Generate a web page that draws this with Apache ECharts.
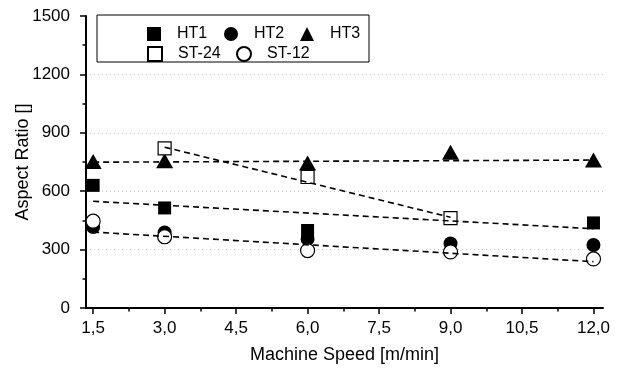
<!DOCTYPE html>
<html>
<head>
<meta charset="utf-8">
<script src="https://cdn.jsdelivr.net/npm/echarts@6/dist/echarts.min.js"></script>
<style>html,body{margin:0;padding:0;background:#fff}#c{width:618px;height:372px}</style>
</head>
<body>
<div id="c"></div>
<script>
// Data
var xMajorTicks = [1.5, 3.0, 4.5, 6.0, 7.5, 9.0, 10.5, 12.0];
var xMinorTicks = [2.25, 3.75, 5.25, 6.75, 8.25, 9.75, 11.25];
var HT1 = [[1.5, 630], [3.0, 514], [6.0, 398], [12.0, 437]];
var HT2 = [[1.5, 416], [3.0, 388], [6.0, 355], [9.0, 331], [12.0, 324]];
var HT3 = [[1.5, 752], [3.0, 756], [6.0, 745], [9.0, 800], [12.0, 760]];
var ST24 = [[3.0, 820], [6.0, 673], [9.0, 462]];
var ST12 = [[1.5, 446], [3.0, 366], [6.0, 295], [9.0, 288], [12.0, 252]];
var fitHT3 = [[1.5, 749], [12.0, 760]];
var fitST24 = [[3.0, 826], [9.0, 466]];
var fitHT1 = [[1.5, 548], [12.0, 407]];
var fitCircles = [[1.5, 390], [12.0, 238]];

var FONT = 'Liberation Sans';
var chart = echarts.init(document.getElementById('c'), null, {renderer: 'canvas'});

function scatter(name, data, symbol, size, filled) {
  return {
    name: name, type: 'scatter', data: data, symbol: symbol, symbolSize: size,
    xAxisIndex: 0, z: 2,
    itemStyle: filled ? {color: '#000', borderColor: '#000', borderWidth: 0, opacity: 1}
                      : {color: '#fff', borderColor: '#000', borderWidth: 1.2, opacity: 1}
  };
}
function fit(data) {
  return {
    type: 'line', data: data, symbol: 'none', xAxisIndex: 0, z: 3, silent: true,
    lineStyle: {color: '#000', width: 1.6, type: [6, 4]}
  };
}
function legendItem(name, left, top) {
  return {
    data: [name], left: left, top: top, padding: 0, itemWidth: 14, itemHeight: 14,
    selectedMode: false, itemGap: 0, z: 20,
    formatter: function (n) { return '{t|' + n + '}'; },
    textStyle: {fontFamily: FONT, fontSize: 16, color: '#000',
      rich: {t: {fontFamily: FONT, fontSize: 16, color: '#000', padding: [0, 0, 0, 11]}}}
  };
}

var option = {
  animation: false,
  backgroundColor: '#fff',
  grid: {left: 86, top: 16, width: 517, height: 292, containLabel: false, outerBoundsMode: 'none'},
  graphic: [{
    type: 'rect', z: 5, shape: {x: 97, y: 15, width: 272, height: 47},
    style: {fill: '#fff', stroke: '#000', lineWidth: 1}
  }],
  legend: [
    legendItem('HT1', 147, 26),
    legendItem('HT2', 224, 26),
    legendItem('HT3', 300, 26),
    legendItem('ST-24', 147, 46),
    legendItem('ST-12', 236, 46)
  ],
  xAxis: [{
    type: 'value', min: 1.35, max: 12.2, position: 'bottom',
    name: 'Machine Speed [m/min]', nameLocation: 'middle', nameGap: 38, nameMoveOverlap: false,
    nameTextStyle: {fontFamily: FONT, fontSize: 18, color: '#000'},
    axisLine: {show: true, onZero: false, lineStyle: {color: '#000', width: 2}},
    axisTick: {show: true, customValues: xMajorTicks, length: 6, lineStyle: {color: '#000', width: 1.5}},
    axisLabel: {customValues: xMajorTicks, margin: 12, fontFamily: FONT, fontSize: 17, color: '#000',
      formatter: function (v) { return v.toFixed(1).replace('.', ','); }},
    splitLine: {show: false}
  }, {
    type: 'value', min: 1.35, max: 12.2, position: 'bottom',
    axisLine: {show: false},
    axisTick: {show: true, customValues: xMinorTicks, length: 3.5, lineStyle: {color: '#000', width: 1.5}},
    axisLabel: {show: false},
    splitLine: {show: false}
  }],
  yAxis: {
    type: 'value', min: 0, max: 1500, interval: 300,
    name: 'Aspect Ratio []', nameLocation: 'middle', nameGap: 54, nameRotate: 90, nameMoveOverlap: false,
    nameTextStyle: {fontFamily: FONT, fontSize: 18, color: '#000'},
    axisLine: {show: true, onZero: false, lineStyle: {color: '#000', width: 2}},
    axisTick: {show: true, length: 6, lineStyle: {color: '#000', width: 1.5}},
    minorTick: {show: true, splitNumber: 2, length: 3.5, lineStyle: {color: '#000', width: 1.5}},
    axisLabel: {margin: 16, fontFamily: FONT, fontSize: 17, color: '#000',
      formatter: function (v) { return String(v); }},
    splitLine: {show: true, showMinLine: false, showMaxLine: false,
      lineStyle: {color: '#c8c8c8', width: 1, type: [1, 3]}}
  },
  series: [
    scatter('HT1', HT1, 'rect', 13, true),
    scatter('HT2', HT2, 'circle', 14, true),
    scatter('HT3', HT3, 'triangle', [17, 15], true),
    scatter('ST-24', ST24, 'rect', 13, false),
    scatter('ST-12', ST12, 'circle', 14, false),
    fit(fitHT3), fit(fitST24), fit(fitHT1), fit(fitCircles)
  ]
};
chart.setOption(option);
</script>
</body>
</html>
